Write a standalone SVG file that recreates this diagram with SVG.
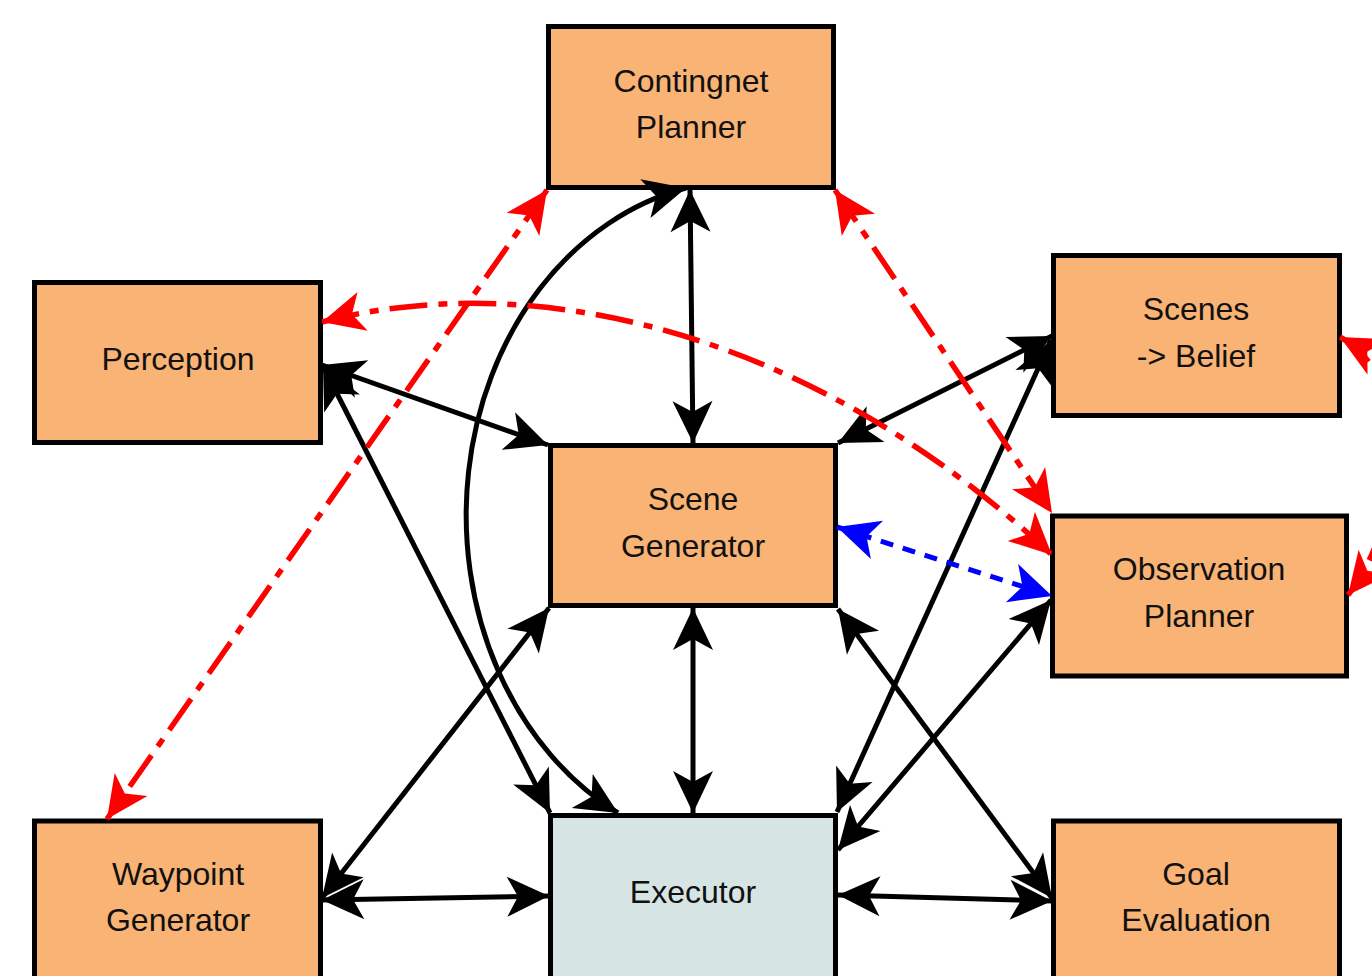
<svg xmlns="http://www.w3.org/2000/svg" width="1372" height="976" viewBox="0 0 1372 976">
  <style>
    .box { fill: #F8B375; stroke: #000; stroke-width: 5; }
    .exec { fill: #D6E4E4; stroke: #000; stroke-width: 5; }
    .label { font-family: "Liberation Sans", Arial, sans-serif; font-size: 32px; fill: #111; text-anchor: middle; }
    .link { fill: none; stroke: #000; stroke-width: 5; marker-start: url(#headBlack); marker-end: url(#headBlack); }
    .plan { fill: none; stroke: #F00; stroke-width: 5.5; stroke-dasharray: 38 11 9 11; marker-start: url(#headRed); marker-end: url(#headRed); }
    .obs { fill: none; stroke: #00F; stroke-width: 5; stroke-dasharray: 13 10; marker-start: url(#headBlue); marker-end: url(#headBlue); }
  </style>
  <defs>
    <marker id="headBlack" viewBox="-44 -22 46 44" refX="0" refY="0" markerWidth="46" markerHeight="44" markerUnits="userSpaceOnUse" orient="auto-start-reverse">
      <path d="M0,0 L-42,-20 L-31,0 L-42,20 Z" fill="#000"/>
    </marker>
    <marker id="headRed" viewBox="-44 -22 46 44" refX="0" refY="0" markerWidth="46" markerHeight="44" markerUnits="userSpaceOnUse" orient="auto-start-reverse">
      <path d="M0,0 L-42,-20 L-31,0 L-42,20 Z" fill="#F00"/>
    </marker>
    <marker id="headBlue" viewBox="-44 -22 46 44" refX="0" refY="0" markerWidth="46" markerHeight="44" markerUnits="userSpaceOnUse" orient="auto-start-reverse">
      <path d="M0,0 L-42,-20 L-31,0 L-42,20 Z" fill="#00F"/>
    </marker>
  </defs>

  <rect width="1372" height="976" fill="#fff"/>

  <!-- nodes -->
  <g id="contingnet-planner">
    <rect class="box" x="548.5" y="26.5" width="285" height="161"/>
    <text class="label" x="691" y="92">Contingnet</text>
    <text class="label" x="691" y="138">Planner</text>
  </g>
  <g id="perception">
    <rect class="box" x="34.5" y="282.5" width="286" height="160"/>
    <text class="label" x="178" y="370">Perception</text>
  </g>
  <g id="scene-generator">
    <rect class="box" x="550.5" y="445.5" width="285" height="160"/>
    <text class="label" x="693" y="510">Scene</text>
    <text class="label" x="693" y="557">Generator</text>
  </g>
  <g id="scenes-belief">
    <rect class="box" x="1053.5" y="255.5" width="286" height="160"/>
    <text class="label" x="1196" y="320">Scenes</text>
    <text class="label" x="1196" y="367">-&gt; Belief</text>
  </g>
  <g id="observation-planner">
    <rect class="box" x="1052.5" y="516" width="294" height="160"/>
    <text class="label" x="1199" y="580">Observation</text>
    <text class="label" x="1199" y="627">Planner</text>
  </g>
  <g id="waypoint-generator">
    <rect class="box" x="34.5" y="821" width="286" height="170"/>
    <text class="label" x="178" y="885">Waypoint</text>
    <text class="label" x="178" y="931">Generator</text>
  </g>
  <g id="executor">
    <rect class="exec" x="550.5" y="815.5" width="285" height="175"/>
    <text class="label" x="693" y="903">Executor</text>
  </g>
  <g id="goal-evaluation">
    <rect class="box" x="1053.5" y="821" width="286" height="170"/>
    <text class="label" x="1196" y="885">Goal</text>
    <text class="label" x="1196" y="931">Evaluation</text>
  </g>

  <!-- connectors -->
  <g id="connectors">
    <!-- control flow (solid black, both directions) -->
    <path class="link" d="M690,190 L693,443"/>
    <path class="link" d="M686,188 A280,335 0 0,0 618,813"/>
    <path class="link" d="M322,365 L548,445"/>
    <path class="link" d="M323,366 L550,813"/>
    <path class="link" d="M549,608 L322,898"/>
    <path class="link" d="M322,900 L549,896"/>
    <path class="link" d="M693,608 L693,813"/>
    <path class="link" d="M838,443 L1052,336"/>
    <path class="link" d="M1051,340 L837,812"/>
    <path class="link" d="M838,609 L1052,898"/>
    <path class="link" d="M1051,600 L838,850"/>
    <path class="link" d="M838,895 L1052,901"/>

    <!-- scene exchange (blue dashed) -->
    <path class="obs" d="M837,527 L1052,596"/>

    <!-- planning links (red dash-dot) -->
    <path class="plan" d="M547,190 L107,819"/>
    <path class="plan" d="M835,190 L1052,513"/>
    <path class="plan" d="M322,322 C520,270 800,320 1052,555"/>
    <path class="plan" d="M1340,337 C1420,380 1400,530 1348,595"/>
  </g>
</svg>
